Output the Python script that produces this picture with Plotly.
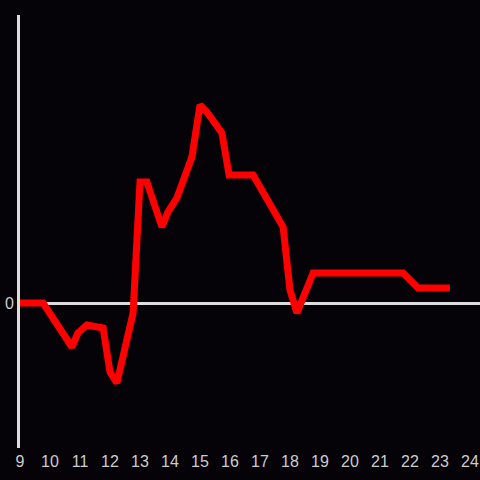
import plotly.graph_objects as go

# Data
hours = [9.0, 9.77, 10.73, 10.93, 11.23, 11.77, 12.0, 12.23, 12.77, 13.0, 13.23,
         13.73, 13.93, 14.23, 14.73, 15.0, 15.23, 15.73, 15.97, 16.77, 17.77,
         18.0, 18.23, 18.77, 21.77, 22.27, 23.33]
values = [0, 0, -44, -30, -22, -25, -69, -80, -10, 121, 121,
          76, 91, 105, 146, 198, 191, 170, 128, 128, 76,
          13, -10, 30, 30, 15, 15]
x_ticks = list(range(9, 25))

fig = go.Figure()
fig.add_trace(go.Scatter(x=hours, y=values, mode='lines',
                         line=dict(color='#ff0000', width=7), hoverinfo='skip'))

fig.update_layout(
    width=480, height=480,
    margin=dict(l=20, r=0, t=15, b=32),
    paper_bgcolor='#050307', plot_bgcolor='#050307',
    showlegend=False,
    font=dict(family='Liberation Sans, Arial, sans-serif', size=16, color='#cccccc'),
)
fig.update_xaxes(range=[9, 24.333], tickvals=x_ticks, showgrid=False,
                 zeroline=False, showline=False, ticks='', ticklabelstandoff=2)
fig.update_yaxes(range=[-145, 288], tickvals=[0], showgrid=False,
                 zeroline=True, zerolinecolor='#dddddd', zerolinewidth=3,
                 showline=True, linecolor='#dddddd', linewidth=3, ticks='',
                 ticklabelstandoff=0)

# drop the page margin so the 480px figure fills the window
fig.write_html("out.html", config={'displayModeBar': False},
               post_script="document.body.style.margin='0';")
